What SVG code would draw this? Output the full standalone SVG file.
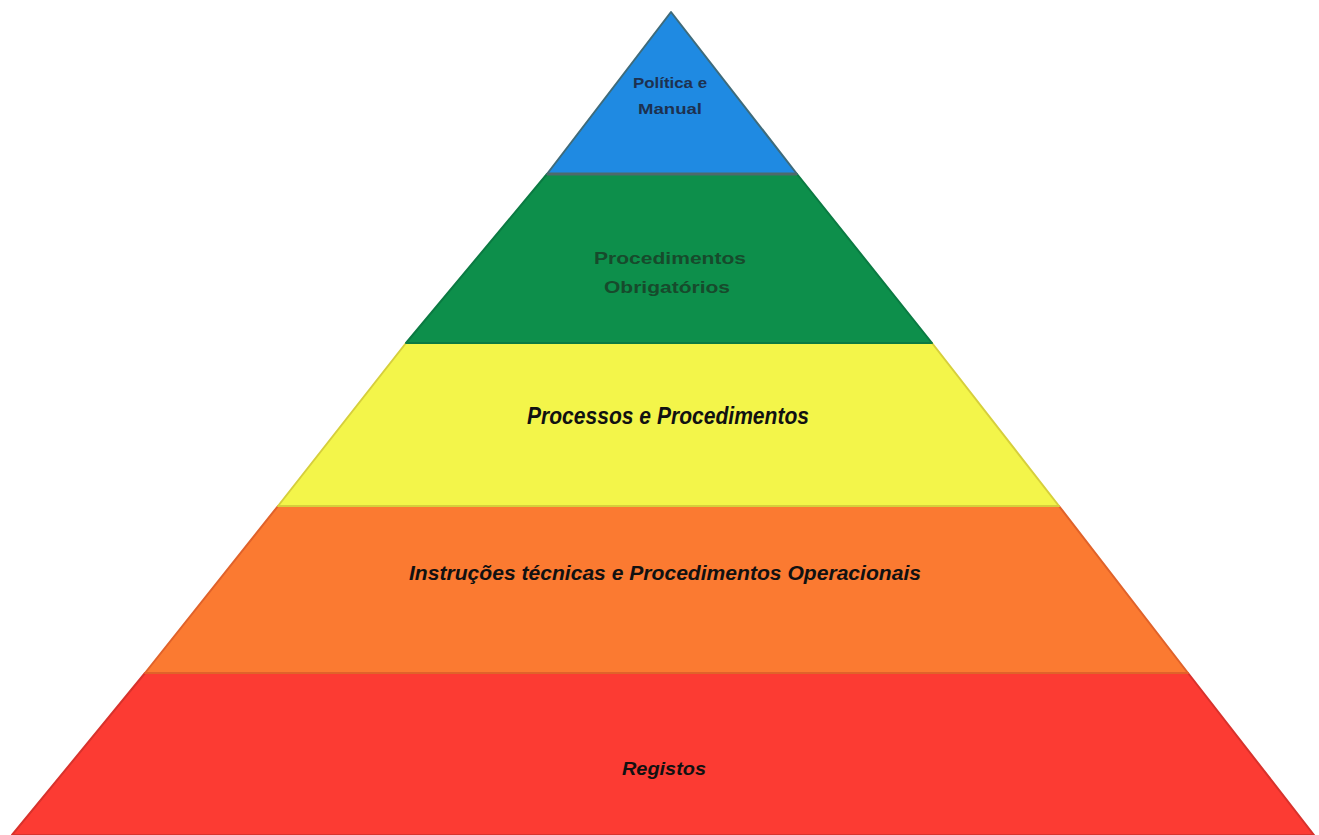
<svg xmlns="http://www.w3.org/2000/svg" width="1319" height="835" viewBox="0 0 1319 835">
<style>
.lbl{font-family:"Liberation Sans",Arial,sans-serif;text-anchor:middle;font-weight:bold}
.it{font-style:italic;fill:#111}
.layer{stroke-width:2;stroke-linejoin:round}
</style>
<rect width="1319" height="835" fill="#ffffff"/>
<g id="registos">
<polygon class="layer" points="145,673 1188,673 1314,835 12,835" fill="#fc3b33" stroke="#d8322c"/>
<text class="lbl it" x="664" y="775" font-size="19" textLength="84" lengthAdjust="spacingAndGlyphs">Registos</text>
</g>
<g id="instrucoes">
<polygon class="layer" points="278,506 1059,506 1188,673 145,673" fill="#fb7a31" stroke="#e0622a"/>
<text class="lbl it" x="665" y="580" font-size="20" textLength="512" lengthAdjust="spacingAndGlyphs">Instruções técnicas e Procedimentos Operacionais</text>
</g>
<g id="processos">
<polygon class="layer" points="406,343 932,343 1059,506 278,506" fill="#f3f54a" stroke="#d6cf3c"/>
<text class="lbl it" x="668" y="424" font-size="24" textLength="282" lengthAdjust="spacingAndGlyphs">Processos e Procedimentos</text>
</g>
<g id="obrigatorios">
<polygon class="layer" points="547,174 797,174 932,343 406,343" fill="#0d8f4b" stroke="#0b7a42"/>
<text class="lbl" x="670" y="264" font-size="17" fill="#174a2c" textLength="152" lengthAdjust="spacingAndGlyphs">Procedimentos</text>
<text class="lbl" x="667" y="293" font-size="17" fill="#174a2c" textLength="126" lengthAdjust="spacingAndGlyphs">Obrigatórios</text>
</g>
<g id="politica">
<polygon class="layer" points="671,12 797,174 547,174" fill="#1f8ae2" stroke="#3f6b7a"/>
<line x1="547" y1="174" x2="797" y2="174" stroke="#4e6a6a" stroke-width="3"/>
<text class="lbl" x="670" y="88" font-size="15" fill="#1d3150" textLength="74" lengthAdjust="spacingAndGlyphs">Política e</text>
<text class="lbl" x="670" y="114" font-size="15" fill="#1d3150" textLength="64" lengthAdjust="spacingAndGlyphs">Manual</text>
</g>
<g id="connectors"></g>
</svg>
